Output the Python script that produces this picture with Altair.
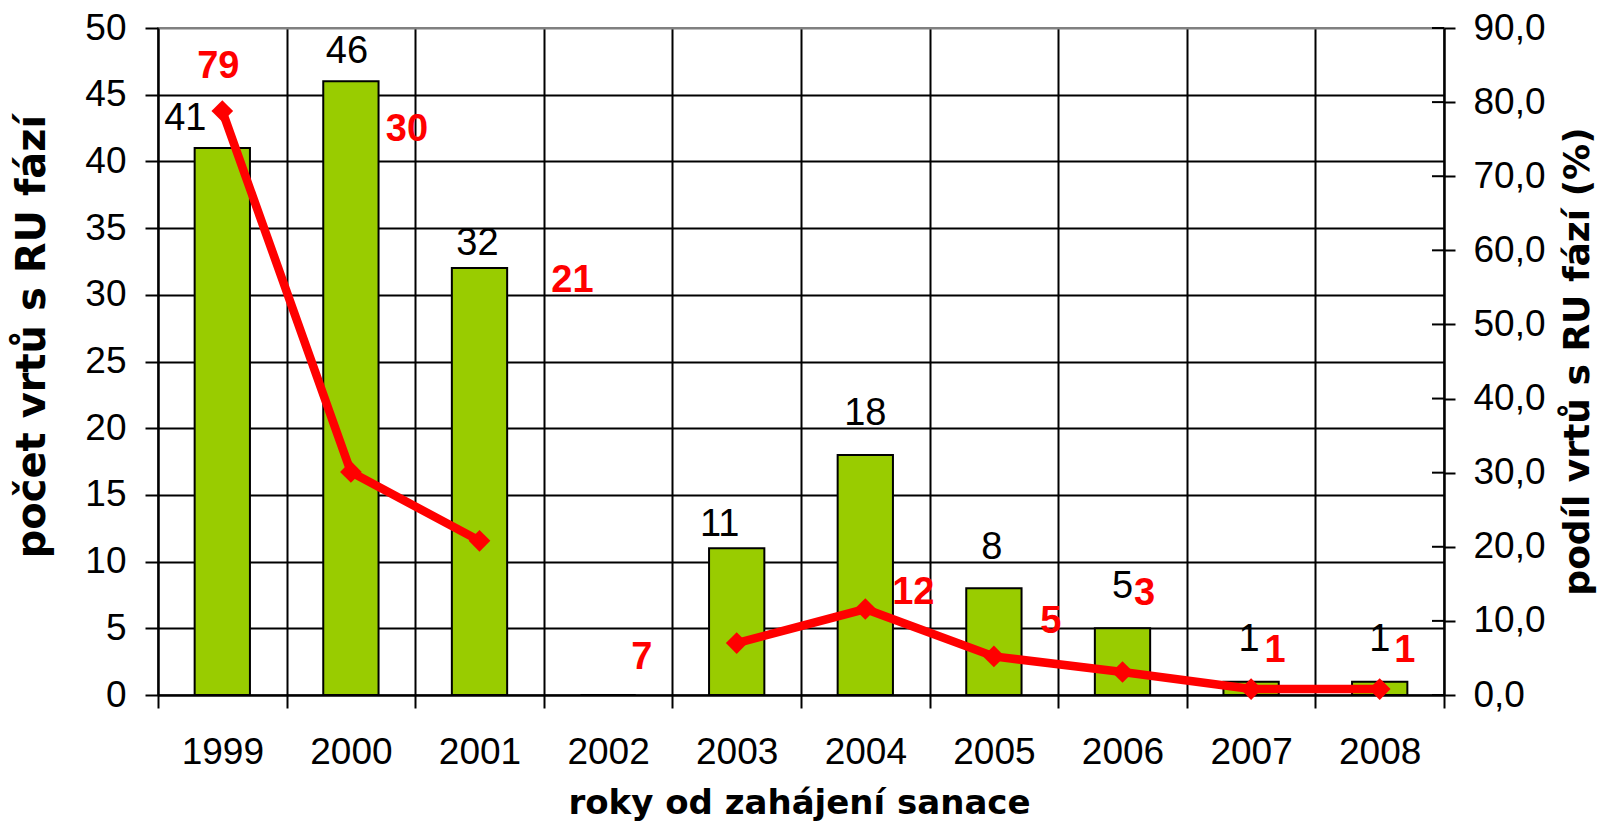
import altair as alt
import pandas as pd

# ---- data ----
years = ["1999", "2000", "2001", "2002", "2003", "2004", "2005", "2006", "2007", "2008"]
counts = [41, 46, 32, 0, 11, 18, 8, 5, 1, 1]
shares = [78.8, 30.1, 20.8, None, 7.0, 11.6, 5.2, 3.1, 0.8, 0.8]

left_ticks = list(range(0, 51, 5))
right_ticks = list(range(0, 91, 10))

# ---- label placement (styling, pixels relative to the data point) ----
bar_label_offsets = {
    "1999": (-37, -29), "2000": (-4, -29), "2001": (-2, -24),
    "2003": (-17, -23), "2004": (0, -41), "2005": (-2, -40),
    "2006": (0, -41), "2007": (-2, -42), "2008": (0, -42),
}
share_label_offsets = {
    "1999": (-4, -44), "2000": (56, -342), "2001": (93, -260),
    "2003": (-95, 15), "2004": (48, -16), "2005": (57, -34),
    "2006": (22, -78), "2007": (24, -38), "2008": (25, -38),
}

# segment id so the line breaks where a value is missing
seg, s = [], 0
for v in shares:
    if v is None:
        s += 1
    seg.append(s)

df = pd.DataFrame({"year": years, "count": counts, "share": shares, "seg": seg})
tick_df = pd.DataFrame({"v": right_ticks})

W, H = 1286, 667
FONT = "Liberation Sans"
TITLE_FONT = "DejaVu Sans"

x_enc = alt.X(
    "year:N",
    sort=years,
    scale=alt.Scale(paddingInner=0, paddingOuter=0),
    axis=alt.Axis(
        title="roky od zahájení sanace",
        titleFont=TITLE_FONT, titleFontSize=34, titleFontWeight="bold",
        titleX=641, titleY=118, titleBaseline="alphabetic", titleAlign="center",
        labelAngle=0, labelFont=FONT, labelFontSize=37, labelColor="black",
        labelPadding=26, tickSize=13, tickBand="extent",
        grid=True, gridColor="black", domain=True,
    ),
)

y_left = alt.Y(
    "count:Q",
    scale=alt.Scale(domain=[0, 50], nice=False, zero=True),
    axis=alt.Axis(
        title="počet vrtů s RU fází",
        titleFont=TITLE_FONT, titleFontSize=40, titleFontWeight="bold",
        titleX=-126, titleY=308, titleAngle=270, titleBaseline="middle", titleAlign="center",
        values=left_ticks, labelFont=FONT, labelFontSize=37, labelColor="black",
        labelPadding=19, tickSize=13, grid=True,
        gridColor={"condition": {"test": "datum.value === 50", "value": "#808080"}, "value": "black"},
    ),
)

right_axis = alt.Axis(
    orient="right",
    title="podíl vrtů s RU fází (%)",
    titleFont=TITLE_FONT, titleFontSize=36, titleFontWeight="bold",
    titleX=133, titleY=333, titleAngle=270, titleBaseline="middle", titleAlign="center",
    values=right_ticks, labelFont=FONT, labelFontSize=37, labelColor="black",
    labelPadding=18, tickSize=11, grid=False,
    labelExpr="replace(format(datum.value, '.1f'), '.', ',')",
)
right_scale = alt.Scale(domain=[0, 90], nice=False, zero=True)

base = alt.Chart(df)

bars = base.mark_bar(
    fill="#99CC00", stroke="black", strokeWidth=2, width=alt.RelativeBandSize(0.43)
).encode(x=x_enc, y=y_left)

bar_labels = []
for yr, (dx, dy) in bar_label_offsets.items():
    bar_labels.append(
        base.transform_filter(alt.datum.year == yr)
        .mark_text(font=FONT, fontSize=38, color="black", baseline="middle", align="center", dx=dx, dy=dy)
        .encode(x=x_enc, y=y_left, text=alt.Text("count:Q", format="d"))
    )

left_layer = alt.layer(bars, *bar_labels)

line_base = base.transform_filter("isValid(datum.share)")
y_right = alt.Y("share:Q", scale=right_scale, axis=right_axis)

line = line_base.mark_line(color="#FF0000", strokeWidth=8.5).encode(x=x_enc, y=y_right, detail="seg:N")
points = line_base.mark_point(shape="diamond", filled=True, size=470, color="#FF0000", opacity=1).encode(
    x=x_enc, y=y_right
)

share_labels = []
for yr, (dx, dy) in share_label_offsets.items():
    share_labels.append(
        line_base.transform_filter(alt.datum.year == yr)
        .mark_text(font=FONT, fontSize=38, fontWeight="bold", color="#FF0000", baseline="middle",
                   align="center", dx=dx, dy=dy)
        .encode(x=x_enc, y=y_right, text=alt.Text("share:Q", format=".0f"))
    )

inner_ticks = alt.Chart(tick_df).mark_rule(color="black", strokeWidth=2).encode(
    y=alt.Y("v:Q", scale=right_scale, axis=right_axis),
    x=alt.value(W - 12),
    x2=alt.value(W),
)

right_layer = alt.layer(line, points, inner_ticks, *share_labels)

chart = (
    alt.layer(left_layer, right_layer)
    .resolve_scale(y="independent")
    .properties(
        width=W,
        height=H,
        autosize=alt.AutoSizeParams(type="none"),
        padding={"left": 150, "top": 20, "right": 160, "bottom": 131},
        background="white",
    )
    .configure_view(stroke="#808080", strokeWidth=2)
    .configure_axis(
        domainColor="black", domainWidth=2, tickColor="black", tickWidth=2,
        gridWidth=2, gridOpacity=1,
    )
)

chart.save("out.html", embed_options={"renderer": "svg", "actions": False})
